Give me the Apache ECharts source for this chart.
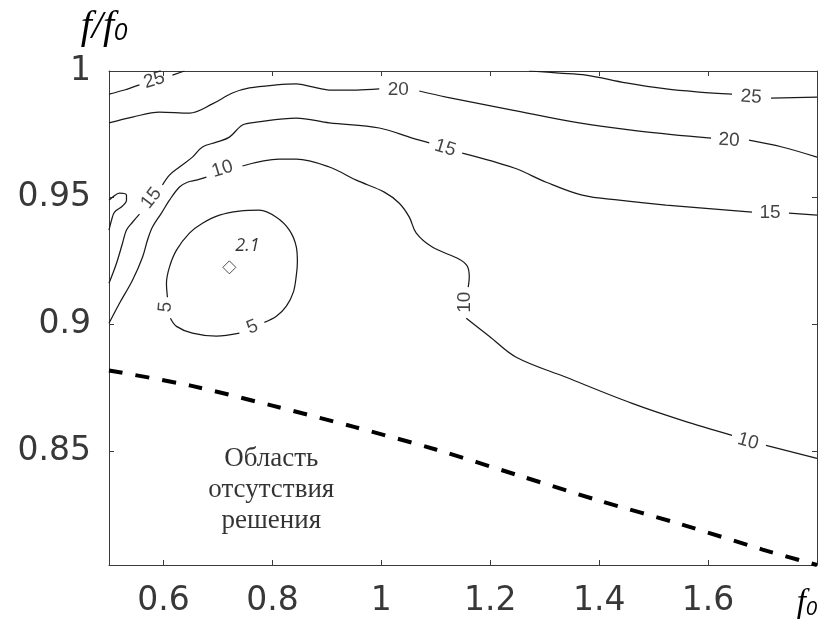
<!DOCTYPE html>
<html>
<head>
<meta charset="utf-8">
<script src="https://cdn.jsdelivr.net/npm/echarts@6/dist/echarts.min.js"></script>
<style>
  html, body { margin: 0; padding: 0; background: #fff; }
  #chart { width: 824px; height: 630px; }
</style>
</head>
<body>
<div id="chart"></div>
<script>
// Axis ranges and tick labels
const xRange = [0.5, 1.8];
const yRange = [0.805, 1.0];
const xTicks = [0.6, 0.8, 1, 1.2, 1.4, 1.6];
const yTicks = [0.85, 0.9, 0.95, 1];

// Contour lines, each split into pieces around its inline labels: [f0, f/f0]
const contour25Left = [
  [[0.5, 0.9909], [0.5284, 0.9925], [0.556, 0.9945]],
  [[0.6165, 0.9984], [0.6385, 1.0]]
];
const contour25Right = [
  [[1.2716, 1.0], [1.3266, 0.9992], [1.376, 0.9984], [1.4495, 0.9953], [1.523, 0.9929], [1.5835, 0.9917], [1.644, 0.9909]],
  [[1.7156, 0.9893], [1.8, 0.9897]]
];
const contour20 = [
  [[0.5, 0.9795], [0.5431, 0.9818], [0.5927, 0.9838], [0.6477, 0.9834], [0.6899, 0.9870], [0.7266, 0.9913], [0.7578, 0.9933],
   [0.8073, 0.9945], [0.8440, 0.9949], [0.8734, 0.9937], [0.9046, 0.9925], [0.9541, 0.9925], [0.9963, 0.9929]],
  [[1.0697, 0.9921], [1.1193, 0.9897], [1.2404, 0.9846], [1.3633, 0.9795], [1.4734, 0.9763], [1.6055, 0.9735]],
  [[1.6752, 0.9727], [1.7358, 0.9700], [1.8, 0.9660]]
];
const contour15 = [
  [[0.5, 0.9162], [0.5138, 0.9241], [0.5248, 0.9320], [0.5321, 0.9372], [0.5431, 0.9403], [0.5560, 0.9435]],
  [[0.5982, 0.9550], [0.6110, 0.9589], [0.6294, 0.9621], [0.6532, 0.9660], [0.6716, 0.9700], [0.6972, 0.9719], [0.7211, 0.9739],
   [0.7450, 0.9787], [0.7706, 0.9798], [0.8440, 0.9814], [0.9046, 0.9795], [0.9963, 0.9775], [1.0569, 0.9735], [1.0881, 0.9716]],
  [[1.1486, 0.9676], [1.2440, 0.9617], [1.3028, 0.9561], [1.3688, 0.9510], [1.4367, 0.9490], [1.5229, 0.9471], [1.6807, 0.9443]],
  [[1.7486, 0.9439], [1.8, 0.9431]]
];
const contour15Edge = [
  [[0.5, 0.9490], [0.5064, 0.9502], [0.5193, 0.9518], [0.5321, 0.9510], [0.5321, 0.9490], [0.5248, 0.9467], [0.5101, 0.9443], [0.5046, 0.9411], [0.5, 0.9372]]
];
const contour10 = [
  [[0.5, 0.9004], [0.5193, 0.9083], [0.5431, 0.9174], [0.5615, 0.9265], [0.5706, 0.9332], [0.5798, 0.9384], [0.5963, 0.9439],
   [0.6110, 0.9490], [0.6294, 0.9542], [0.6440, 0.9561], [0.6606, 0.9569], [0.6789, 0.9581]],
  [[0.7450, 0.9625], [0.8128, 0.9652], [0.8440, 0.9652], [0.9046, 0.9621], [0.9541, 0.9569], [1.0055, 0.9522], [1.0330, 0.9478],
   [1.0514, 0.9423], [1.0642, 0.9360], [1.0936, 0.9305], [1.1431, 0.9257], [1.1578, 0.9230], [1.1615, 0.9186], [1.1596, 0.9147]],
  [[1.1560, 0.9024], [1.1982, 0.8953], [1.2477, 0.8870], [1.3394, 0.8791], [1.4606, 0.8688], [1.5523, 0.8621], [1.6440, 0.8562]],
  [[1.7064, 0.8522], [1.8, 0.8471]]
];
const contour5 = [
  [[0.6073, 0.9107], [0.6055, 0.9162], [0.6110, 0.9226], [0.6239, 0.9293], [0.6477, 0.9360], [0.6716, 0.9399], [0.7028, 0.9431],
   [0.7394, 0.9447], [0.7761, 0.9451], [0.8073, 0.9423], [0.8312, 0.9372], [0.8440, 0.9305], [0.8459, 0.9245], [0.8440, 0.9194],
   [0.8385, 0.9127], [0.8257, 0.9072], [0.8073, 0.9032], [0.7853, 0.9008]],
  [[0.7394, 0.8965], [0.6972, 0.8953], [0.6532, 0.8965], [0.6239, 0.8992], [0.6128, 0.9024]]
];

// Inline contour labels: [f0, f/f0, level, text angle]
const contourLabels = [
  [0.583, 0.9964, 25, 17],
  [1.6789, 0.9897, 25, -4],
  [1.0312, 0.9925, 20, 0],
  [1.6385, 0.9727, 20, -3],
  [0.5780, 0.9498, 15, 52],
  [1.1174, 0.9696, 15, -17],
  [1.7138, 0.9439, 15, 0],
  [0.7083, 0.9613, 10, 17],
  [1.1541, 0.9087, 10, 90],
  [1.6734, 0.8538, 10, -16],
  [0.7633, 0.8989, 5, 22],
  [0.6037, 0.9068, 5, 85]
];

// Minimum of the surface and its value
const minimumPoint = [0.721, 0.9225];
const minimumValue = 2.1;
const minimumLabelPos = [0.7541, 0.9309];

// Boundary of the region without a solution
const boundaryX = [0.5, 0.65, 0.8, 0.95, 1.1, 1.25, 1.4, 1.55, 1.7, 1.8];
const boundaryY = [0.8818, 0.8758, 0.8679, 0.8595, 0.8506, 0.8405, 0.8304, 0.8211, 0.8111, 0.8050];

const regionText = ['Область', 'отсутствия', 'решения'];
const regionTextPos = [0.798, 0.8345];

const lineColor = '#1a1a1a';
const axisColor = '#3a3a3a';

function contourSeries(pieces) {
  return pieces.map(seg => ({
    type: 'line',
    data: seg,
    smooth: 0.35,
    showSymbol: false,
    symbol: 'none',
    silent: true,
    lineStyle: { color: lineColor, width: 1.25 }
  }));
}

const series = [].concat(
  contourSeries(contour25Left),
  contourSeries(contour25Right),
  contourSeries(contour20),
  contourSeries(contour15),
  contourSeries(contour15Edge),
  contourSeries(contour10),
  contourSeries(contour5)
);

series.push({
  type: 'line',
  data: boundaryX.map((x, i) => [x, boundaryY[i]]),
  smooth: 0.3,
  symbol: 'none',
  silent: true,
  lineStyle: { color: '#000', width: 4, type: [14, 13], cap: 'butt' }
});

series.push({
  type: 'scatter',
  symbolSize: 0,
  silent: true,
  data: contourLabels.map(l => ({
    value: [l[0], l[1], l[2]],
    label: { rotate: l[3] }
  })),
  label: {
    show: true,
    position: 'inside',
    formatter: p => String(p.value[2]),
    fontFamily: 'Liberation Sans, Arial, sans-serif',
    fontSize: 19,
    color: '#141414'
  }
});

series.push({
  type: 'scatter',
  symbol: 'diamond',
  symbolSize: 13,
  silent: true,
  data: [minimumPoint],
  itemStyle: { color: '#fff', borderColor: '#222', borderWidth: 1 }
});

series.push({
  type: 'scatter',
  symbolSize: 0,
  silent: true,
  data: [{ value: [minimumLabelPos[0], minimumLabelPos[1], minimumValue] }],
  label: {
    show: true,
    position: 'inside',
    formatter: p => p.value[2].toFixed(1),
    fontFamily: 'Open Sans, Liberation Sans, sans-serif',
    fontStyle: 'italic',
    fontSize: 18,
    color: '#000'
  }
});

series.push({
  type: 'scatter',
  symbolSize: 0,
  silent: true,
  data: [regionTextPos],
  label: {
    show: true,
    position: 'inside',
    formatter: () => regionText.join('\n'),
    fontFamily: 'Liberation Serif, Times New Roman, serif',
    fontSize: 27,
    lineHeight: 31,
    color: '#000',
    align: 'center'
  }
});

const tickLabelStyle = {
  fontFamily: 'DejaVu Sans, sans-serif',
  fontSize: 33,
  color: '#383838'
};

function makeAxis(kind, position, withLabels, range, ticks) {
  const ax = {
    type: 'value',
    position: position,
    min: range[0],
    max: range[1],
    axisLine: { show: true, onZero: false, lineStyle: { color: axisColor, width: 1 } },
    axisTick: { show: true, inside: true, length: 5, customValues: ticks, lineStyle: { color: axisColor } },
    axisLabel: withLabels
      ? Object.assign({ show: true, customValues: ticks, margin: kind === 'x' ? 20 : 18 }, tickLabelStyle)
      : { show: false },
    splitLine: { show: false }
  };
  return ax;
}

const xAxisMain = makeAxis('x', 'bottom', true, xRange, xTicks);
xAxisMain.name = '{f|f}{s|0}';
xAxisMain.nameLocation = 'end';
xAxisMain.nameGap = 0;
xAxisMain.nameTextStyle = {
  align: 'right',
  verticalAlign: 'top',
  padding: [22, 0, 0, 0],
  rich: {
    f: { fontFamily: 'Liberation Serif, serif', fontStyle: 'italic', fontSize: 33, color: '#000' },
    s: { fontFamily: 'Liberation Sans, sans-serif', fontStyle: 'italic', fontSize: 20, color: '#000', padding: [12, 0, 0, 0] }
  }
};

const yAxisMain = makeAxis('y', 'left', true, yRange, yTicks);
yAxisMain.name = '{f|f/f}{s|0}';
yAxisMain.nameLocation = 'end';
yAxisMain.nameGap = 24;
yAxisMain.nameTextStyle = {
  align: 'center',
  verticalAlign: 'bottom',
  padding: [0, 10, 0, 0],
  rich: {
    f: { fontFamily: 'Liberation Serif, serif', fontStyle: 'italic', fontSize: 40, color: '#000' },
    s: { fontFamily: 'Liberation Sans, sans-serif', fontStyle: 'italic', fontSize: 24, color: '#000', padding: [12, 0, 0, 0] }
  }
};

const option = {
  animation: false,
  backgroundColor: '#fff',
  grid: { left: 109, top: 71, width: 708, height: 494, containLabel: false },
  xAxis: [xAxisMain, makeAxis('x', 'top', false, xRange, xTicks)],
  yAxis: [yAxisMain, makeAxis('y', 'right', false, yRange, yTicks)],
  series: series
};

const chart = echarts.init(document.getElementById('chart'), null, { renderer: 'canvas' });
chart.setOption(option);
</script>
</body>
</html>
